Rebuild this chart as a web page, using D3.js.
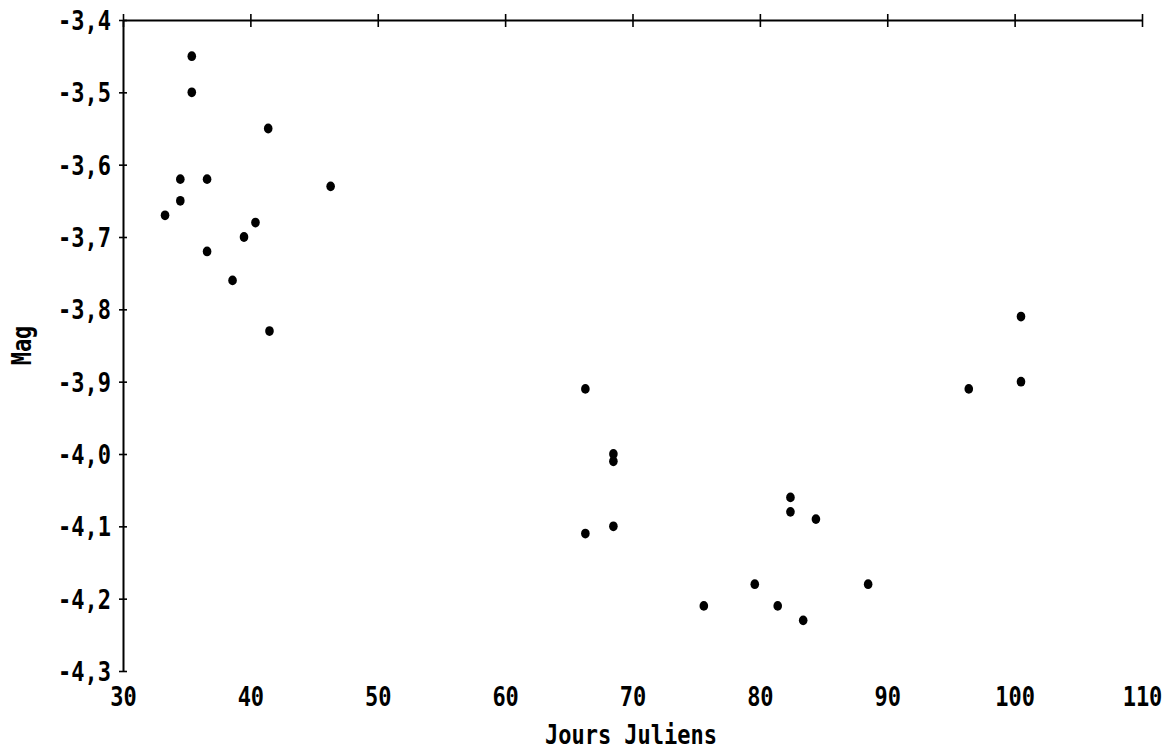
<!DOCTYPE html>
<html>
<head>
<meta charset="utf-8">
<script src="https://cdn.jsdelivr.net/npm/d3@7"></script>
<style>
  html, body { margin: 0; padding: 0; background: #fff; }
  svg text { font-family: "DejaVu Sans Mono", "Liberation Mono", monospace; font-weight: bold; fill: #000; }
  svg text.tall { transform-box: fill-box; transform-origin: center; transform: scaleY(1.22); }
</style>
</head>
<body>
<svg id="chart" width="1172" height="750"></svg>
<script>
// Data (Julian day, magnitude)
const days = [35.4, 35.4, 41.4, 34.5, 36.6, 46.3, 34.5, 33.3, 40.4, 39.5, 36.6, 38.6, 41.5,
              66.3, 68.5, 68.5, 68.5, 66.3,
              82.4, 82.4, 84.4, 79.6, 88.5, 75.6, 81.4, 83.4,
              100.5, 100.5, 96.4];
const mags = [-3.45, -3.50, -3.55, -3.62, -3.62, -3.63, -3.65, -3.67, -3.68, -3.70, -3.72, -3.76, -3.83,
              -3.91, -4.00, -4.01, -4.10, -4.11,
              -4.06, -4.08, -4.09, -4.18, -4.18, -4.21, -4.21, -4.23,
              -3.81, -3.90, -3.91];
const xTicks = [30, 40, 50, 60, 70, 80, 90, 100, 110];
const yTicks = [-3.4, -3.5, -3.6, -3.7, -3.8, -3.9, -4.0, -4.1, -4.2, -4.3];
const xTitle = "Jours Juliens";
const yTitle = "Mag";

(function () {
const svg = d3.select("#chart");
const mLeft = 123, mRight = 1142, mTop = 20, mBottom = 671;
const x = d3.scaleLinear().domain([30, 110]).range([mLeft, mRight]);
const y = d3.scaleLinear().domain([-3.4, -4.3]).range([mTop, mBottom]);
const fmt = v => d3.format(".1f")(v).replace(".", ",").replace("−", "-");
const FS = 22;

// top axis line with cross ticks
const topAxis = svg.append("g").attr("transform", `translate(0,${mTop})`)
  .call(d3.axisTop(x).tickValues(xTicks).tickSize(5).tickSizeOuter(0).tickFormat(""));
topAxis.select(".domain").attr("stroke", "#000").attr("stroke-width", 2);
topAxis.selectAll(".tick line").attr("stroke", "#000").attr("stroke-width", 1.6).attr("y1", 7).attr("y2", -6);

// left axis with cross ticks
const leftAxis = svg.append("g").attr("transform", `translate(${mLeft},0)`)
  .call(d3.axisLeft(y).tickValues(yTicks).tickSize(4).tickSizeOuter(0).tickPadding(8).tickFormat(fmt));
leftAxis.select(".domain").attr("stroke", "#000").attr("stroke-width", 2);
leftAxis.selectAll(".tick line").attr("stroke", "#000").attr("stroke-width", 1.6).attr("x1", 4).attr("x2", -4);
leftAxis.selectAll(".tick text").attr("class", "tall").attr("font-size", FS).attr("dy", "0.36em")
  .style("font-family", "'DejaVu Sans Mono', monospace").style("font-weight", "bold");

// bottom labels only (no line)
const botAxis = svg.append("g").attr("transform", `translate(0,${mBottom})`)
  .call(d3.axisBottom(x).tickValues(xTicks).tickSize(0).tickPadding(18).tickFormat(d3.format("d")));
botAxis.select(".domain").remove();
botAxis.selectAll(".tick text").attr("class", "tall").attr("font-size", FS)
  .style("font-family", "'DejaVu Sans Mono', monospace").style("font-weight", "bold");

// titles
svg.append("text").attr("class", "tall").attr("x", 631).attr("y", 742)
  .attr("text-anchor", "middle").attr("font-size", FS).text(xTitle);
svg.append("g").attr("transform", `translate(29,${(mTop + mBottom) / 2}) rotate(-90)`)
  .append("text").attr("class", "tall").attr("text-anchor", "middle").attr("font-size", FS).text(yTitle);

// points
svg.append("g").selectAll("ellipse").data(days.map((d, i) => [d, mags[i]])).join("ellipse")
  .attr("cx", d => x(d[0])).attr("cy", d => y(d[1]))
  .attr("rx", 4.3).attr("ry", 4.9).attr("fill", "#000");
})();
</script>
</body>
</html>
